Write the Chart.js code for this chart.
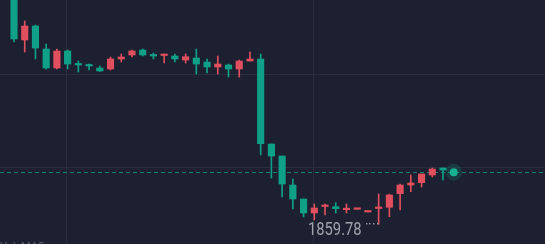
<!DOCTYPE html>
<html>
<head>
<meta charset="utf-8">
<script src="https://cdn.jsdelivr.net/npm/chart.js@4.4.1/dist/chart.umd.min.js"></script>
<style>
    html, body { margin: 0; padding: 0; background: #1c2030; overflow: hidden; }
    #chart { display: block; }
</style>
</head>
<body>
<canvas id="chart" width="545" height="244"></canvas>
<script>
// candle index -> OHLC
const opens = [1983.01, 1958.82, 1966.34, 1953.98, 1943.76, 1952.90, 1945.91, 1945.37, 1943.76, 1943.22, 1948.60, 1950.75, 1953.44, 1950.75, 1950.48, 1950.21, 1948.06, 1949.14, 1946.99, 1944.30, 1945.37, 1943.22, 1947.52, 1948.60, 1902.90, 1896.45, 1880.86, 1873.33, 1865.81, 1869.30, 1869.19, 1867.58, 1867.80, 1866.35, 1868.23, 1868.87, 1876.18, 1880.86, 1882.10, 1886.24, 1890.00];
const highs = [1984.62, 1969.03, 1966.88, 1956.66, 1953.98, 1953.44, 1947.52, 1945.91, 1944.84, 1949.67, 1951.29, 1953.44, 1953.98, 1951.82, 1951.29, 1951.29, 1951.29, 1953.98, 1948.60, 1950.21, 1945.91, 1948.06, 1952.36, 1951.29, 1902.90, 1896.45, 1884.09, 1873.33, 1870.65, 1870.65, 1871.34, 1870.65, 1867.80, 1866.35, 1876.02, 1876.02, 1881.40, 1886.24, 1886.77, 1890.00, 1890.00];
const lows = [1957.74, 1952.36, 1948.60, 1943.22, 1943.22, 1943.22, 1941.61, 1942.68, 1941.88, 1942.68, 1946.99, 1949.67, 1950.21, 1948.60, 1946.45, 1946.99, 1946.45, 1940.53, 1941.07, 1940.53, 1938.92, 1938.92, 1947.52, 1896.99, 1884.62, 1874.41, 1867.96, 1863.66, 1862.04, 1864.73, 1865.81, 1865.81, 1867.80, 1866.35, 1859.78, 1863.82, 1867.42, 1877.26, 1879.79, 1885.16, 1883.55];
const closes = [1959.35, 1966.34, 1954.51, 1943.76, 1952.90, 1945.91, 1945.37, 1944.84, 1942.15, 1948.60, 1949.67, 1952.90, 1950.75, 1950.21, 1951.13, 1948.60, 1949.84, 1945.91, 1944.30, 1945.91, 1943.22, 1947.52, 1948.60, 1903.06, 1896.45, 1881.40, 1873.33, 1865.81, 1868.50, 1869.73, 1868.12, 1867.96, 1867.80, 1866.35, 1868.60, 1875.48, 1880.86, 1881.94, 1886.77, 1889.46, 1888.92];

const lastIndex = 41;
const lastPrice = 1887.69;

const priceGrid = [1890, 1940];
const timeGrid = [4.94, 27.88];
const bottomLabels = ["Vol", "MA5"];

// -----------------------------------------------------------------------

const UP = "#df4f5d";   // red = up
const DOWN = "#0fa088"; // green = down

const candleColors = opens.map((o, i) => closes[i] >= o ? UP : DOWN);

const wickData = opens.map((o, i) => ({ x: i, y: [lows[i], highs[i]] }));
const bodyData = opens.map((o, i) => ({ x: i, y: [o, closes[i]] }));

let minIdx = 0;
lows.forEach((l, i) => { if (l < lows[minIdx]) minIdx = i; });

const overlayPlugin = {
    id: "overlay",
    beforeDatasetsDraw(chart) {
        const { ctx, chartArea, scales } = chart;
        const y = Math.round(scales.y.getPixelForValue(lastPrice)) + 0.5;
        ctx.save();
        ctx.strokeStyle = "#13806f";
        ctx.lineWidth = 1;
        ctx.setLineDash([4, 3]);
        ctx.beginPath();
        ctx.moveTo(chartArea.left, y);
        ctx.lineTo(chartArea.right, y);
        ctx.stroke();
        ctx.restore();
    },
    afterDatasetsDraw(chart) {
        const { ctx, scales } = chart;
        const x = scales.x.getPixelForValue(minIdx);
        const y = scales.y.getPixelForValue(lows[minIdx]);
        ctx.save();
        ctx.fillStyle = "#8d929e";
        for (let k = 0; k < 4; k++) {
            ctx.fillRect(Math.round(x - 13 + k * 3.7), Math.round(y) - 1, 1.5, 1.5);
        }

        // narrow label for the lowest price
        ctx.fillStyle = "#9ea3ad";
        ctx.font = "18px Roboto, sans-serif";
        ctx.textAlign = "right";
        ctx.textBaseline = "alphabetic";
        ctx.translate(x - 17, y + 11);
        ctx.scale(0.82, 1);
        ctx.fillText(lows[minIdx].toFixed(2), 0, 0);
        ctx.restore();

        ctx.save();
        ctx.fillStyle = "#5d6270";
        ctx.font = "11px Roboto, sans-serif";
        ctx.textAlign = "left";
        ctx.textBaseline = "top";
        ctx.fillText(bottomLabels[0], 0, 242);
        ctx.fillText(bottomLabels[1], 21, 242);
        ctx.restore();
    }
};

const ctx = document.querySelector("#chart").getContext("2d");

new Chart(ctx, {
    type: "bar",
    data: {
        datasets: [
            {
                label: "wick",
                data: wickData,
                backgroundColor: candleColors,
                barThickness: 1,
                minBarLength: 1,
                grouped: false,
                order: 2
            },
            {
                label: "body",
                data: bodyData,
                backgroundColor: candleColors,
                barThickness: 6.5,
                minBarLength: 1.5,
                grouped: false,
                order: 1
            },
            {
                type: "line",
                label: "last",
                data: [{ x: lastIndex, y: lastPrice }],
                showLine: false,
                pointRadius: 4,
                pointBackgroundColor: "#17b392",
                pointBorderColor: "rgba(23,179,146,0.18)",
                pointBorderWidth: 9,
                clip: false,
                order: 0
            }
        ]
    },
    options: {
        responsive: false,
        devicePixelRatio: 1,
        animation: false,
        layout: { padding: 0, autoPadding: false },
        scales: {
            x: {
                type: "linear",
                min: -1.305,
                max: 49.51,
                offset: false,
                border: { display: false },
                ticks: { display: false },
                grid: { color: "#282e3c", lineWidth: 1, drawTicks: false, offset: false },
                afterBuildTicks: scale => { scale.ticks = timeGrid.map(v => ({ value: v })); }
            },
            y: {
                min: 1849.14,
                max: 1980.32,
                border: { display: false },
                ticks: { display: false },
                grid: { color: "#282e3c", lineWidth: 1, drawTicks: false },
                afterBuildTicks: scale => { scale.ticks = priceGrid.map(v => ({ value: v })); }
            }
        },
        plugins: {
            legend: { display: false },
            tooltip: { enabled: false }
        }
    },
    plugins: [overlayPlugin]
});
</script>
</body>
</html>
